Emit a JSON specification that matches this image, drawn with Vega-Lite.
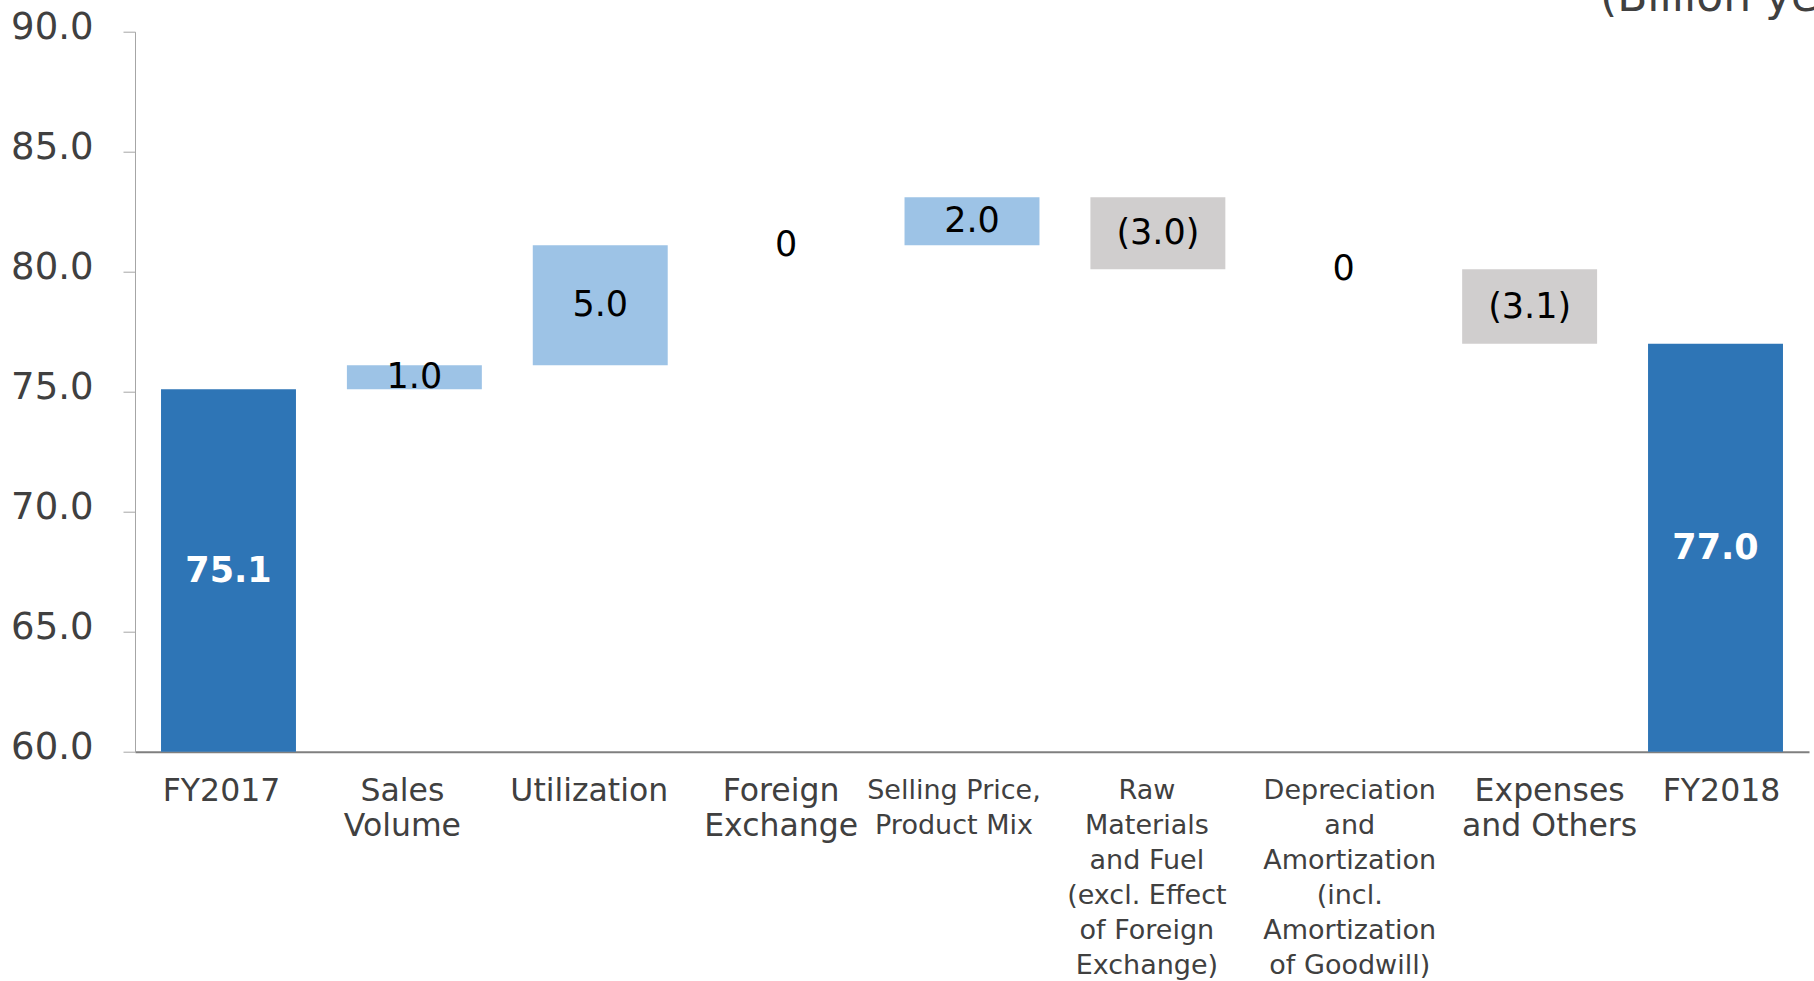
{
  "$schema": "https://vega.github.io/schema/vega-lite/v6.json",
  "width": 1674,
  "height": 720,
  "autosize": {"type": "none"},
  "padding": {"left": 135, "top": 31.7, "right": 5, "bottom": 229.3},
  "background": "white",
  "config": {"view": {"stroke": null}, "font": "DejaVu Sans"},
  "title": {
    "text": "(Billion yen)",
    "anchor": "start",
    "frame": "group",
    "dx": 1465,
    "dy": 46,
    "offset": 0,
    "fontSize": 44,
    "fontWeight": "normal",
    "color": "#404040",
    "baseline": "alphabetic",
    "font": "DejaVu Sans"
  },
  "data": {
    "values": [
      {"item": "FY2017", "start": 60, "end": 75.1, "type": "total", "label": "75.1"},
      {"item": "Sales Volume", "start": 75.1, "end": 76.1, "type": "increase", "label": "1.0"},
      {"item": "Utilization", "start": 76.1, "end": 81.1, "type": "increase", "label": "5.0"},
      {"item": "Foreign Exchange", "start": 81.1, "end": 81.1, "type": "zero", "label": "0"},
      {"item": "Selling Price, Product Mix", "start": 81.1, "end": 83.1, "type": "increase", "label": "2.0"},
      {"item": "Raw Materials and Fuel (excl. Effect of Foreign Exchange)", "start": 83.1, "end": 80.1, "type": "decrease", "label": "(3.0)"},
      {"item": "Depreciation and Amortization (incl. Amortization of Goodwill)", "start": 80.1, "end": 80.1, "type": "zero", "label": "0"},
      {"item": "Expenses and Others", "start": 80.1, "end": 77.0, "type": "decrease", "label": "(3.1)"},
      {"item": "FY2018", "start": 60, "end": 77.0, "type": "total", "label": "77.0"}
    ]
  },
  "encoding": {
    "x": {
      "field": "item",
      "type": "nominal",
      "sort": null,
      "scale": {"paddingInner": 0.274, "paddingOuter": 0.14},
      "axis": {
        "title": null,
        "labelAngle": 0,
        "ticks": false,
        "domainColor": "#7f7f7f",
        "domainWidth": 2,
        "labelPadding": {
          "condition": {"test": "indexof(['Selling Price, Product Mix', 'Raw Materials and Fuel (excl. Effect of Foreign Exchange)', 'Depreciation and Amortization (incl. Amortization of Goodwill)'], datum.value) >= 0", "value": 26},
          "value": 24
        },
        "labelColor": "#404040",
        "labelFont": "DejaVu Sans",
        "labelOverlap": false,
        "labelLimit": 0,
        "labelLineHeight": 35,
        "labelOffset": {
          "condition": [
            {"test": "datum.value == 'FY2017'", "value": -7},
            {"test": "datum.value == 'Sales Volume'", "value": -12},
            {"test": "datum.value == 'Utilization'", "value": -11},
            {"test": "datum.value == 'Foreign Exchange'", "value": -5},
            {"test": "datum.value == 'Selling Price, Product Mix'", "value": -18},
            {"test": "datum.value == 'Raw Materials and Fuel (excl. Effect of Foreign Exchange)'", "value": -11},
            {"test": "datum.value == 'Depreciation and Amortization (incl. Amortization of Goodwill)'", "value": 6},
            {"test": "datum.value == 'Expenses and Others'", "value": 20}
          ],
          "value": 6
        },
        "labelFontSize": {
          "condition": {"test": "indexof(['Selling Price, Product Mix', 'Raw Materials and Fuel (excl. Effect of Foreign Exchange)', 'Depreciation and Amortization (incl. Amortization of Goodwill)'], datum.value) >= 0", "value": 27},
          "value": 31.5
        },
        "labelExpr": "datum.value == 'Sales Volume' ? ['Sales', 'Volume'] : datum.value == 'Foreign Exchange' ? ['Foreign', 'Exchange'] : datum.value == 'Selling Price, Product Mix' ? ['Selling Price,', 'Product Mix'] : datum.value == 'Raw Materials and Fuel (excl. Effect of Foreign Exchange)' ? ['Raw', 'Materials', 'and Fuel', '(excl. Effect', 'of Foreign', 'Exchange)'] : datum.value == 'Depreciation and Amortization (incl. Amortization of Goodwill)' ? ['Depreciation', 'and', 'Amortization', '(incl.', 'Amortization', 'of Goodwill)'] : datum.value == 'Expenses and Others' ? ['Expenses', 'and Others'] : datum.label"
      }
    }
  },
  "layer": [
    {
      "mark": {"type": "bar"},
      "encoding": {
        "y": {
          "field": "start",
          "type": "quantitative",
          "scale": {"domain": [60, 90], "nice": false, "zero": false},
          "axis": {
            "title": null,
            "values": [60, 65, 70, 75, 80, 85, 90],
            "format": ".1f",
            "labelFontSize": 37,
            "labelFont": "DejaVu Sans",
            "labelColor": "#404040",
            "labelPadding": 30,
            "labelOffset": -4,
            "tickSize": 12,
            "tickColor": "#a6a6a6",
            "domainColor": "#a6a6a6",
            "grid": false
          }
        },
        "y2": {"field": "end"},
        "color": {
          "field": "type",
          "type": "nominal",
          "scale": {"domain": ["total", "increase", "decrease", "zero"], "range": ["#2e75b6", "#9dc3e6", "#d0cece", "#ffffff"]},
          "legend": null
        }
      }
    },
    {
      "transform": [
        {"fold": ["start", "end"], "as": ["bound", "level"]},
        {"aggregate": [{"op": "mean", "field": "level", "as": "mid"}], "groupby": ["item", "type", "label"]},
        {"filter": "datum.type != 'total'"}
      ],
      "mark": {"type": "text", "fontSize": 35, "color": "#000000", "font": "DejaVu Sans"},
      "encoding": {
        "y": {"field": "mid", "type": "quantitative"},
        "text": {"field": "label", "type": "nominal"}
      }
    },
    {
      "transform": [
        {"fold": ["start", "end"], "as": ["bound", "level"]},
        {"aggregate": [{"op": "mean", "field": "level", "as": "mid"}], "groupby": ["item", "type", "label"]},
        {"filter": "datum.type == 'total'"}
      ],
      "mark": {"type": "text", "fontSize": 35, "fontWeight": "bold", "color": "#ffffff", "font": "DejaVu Sans"},
      "encoding": {
        "y": {"field": "mid", "type": "quantitative"},
        "text": {"field": "label", "type": "nominal"}
      }
    }
  ]
}
